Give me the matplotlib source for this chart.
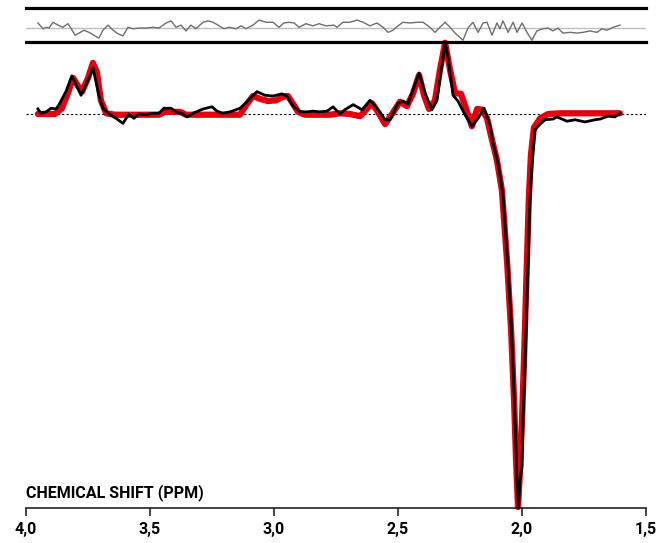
import matplotlib
matplotlib.use("Agg")
import matplotlib.pyplot as plt

plt.rcParams['font.family'] = ['Roboto', 'DejaVu Sans']

# measured spectrum (ppm, intensity; baseline = 0, tallest peak ~ 1)
data_ppm = [3.952, 3.940, 3.919, 3.899, 3.879, 3.867, 3.839, 3.815, 3.778, 3.750,
            3.730, 3.706, 3.690, 3.665, 3.637, 3.609, 3.585, 3.565, 3.544, 3.516,
            3.488, 3.464, 3.444, 3.415, 3.395, 3.367, 3.351, 3.327, 3.286, 3.250,
            3.230, 3.206, 3.177, 3.137, 3.109, 3.069, 3.036, 3.004, 2.968, 2.948,
            2.923, 2.895, 2.867, 2.843, 2.815, 2.786, 2.762, 2.734, 2.714, 2.681,
            2.645, 2.613, 2.585, 2.552, 2.532, 2.500, 2.480, 2.460, 2.415, 2.391,
            2.363, 2.343, 2.310, 2.298, 2.278, 2.258, 2.230, 2.202, 2.177, 2.153,
            2.129, 2.117, 2.097, 2.077, 2.056, 2.044, 2.036, 2.028, 2.020, 2.014,
            2.008, 2.000, 1.996, 1.988, 1.976, 1.968, 1.960, 1.948, 1.927, 1.907,
            1.875, 1.859, 1.819, 1.786, 1.746, 1.706, 1.685, 1.653, 1.625, 1.605]
data_int = [0.07, 0.01, 0.03, 0.08, 0.07, 0.13, 0.31, 0.53, 0.26, 0.47,
            0.64, 0.26, 0.08, 0.00, -0.06, -0.13, 0.00, -0.06, 0.00, -0.01,
            0.01, 0.01, 0.08, 0.08, 0.03, 0.00, -0.04, 0.01, 0.07, 0.10,
            0.04, 0.01, 0.03, 0.08, 0.17, 0.31, 0.26, 0.25, 0.28, 0.25,
            0.11, 0.03, 0.03, 0.04, 0.03, 0.04, 0.10, 0.00, 0.06, 0.13,
            0.06, 0.19, 0.08, -0.08, -0.08, 0.15, 0.18, 0.14, 0.57, 0.29,
            0.06, 0.19, 0.99, 0.78, 0.26, 0.18, -0.01, -0.17, -0.06, 0.08,
            -0.15, -0.40, -0.68, -1.11, -2.13, -2.86, -3.51, -4.25, -5.08, -5.46,
            -5.08, -4.90, -4.25, -3.51, -2.13, -1.19, -0.74, -0.22, -0.14, -0.08,
            -0.07, -0.04, -0.10, -0.08, -0.11, -0.08, -0.07, -0.03, -0.04, 0.01]

# fitted spectrum
fit_ppm = [3.952, 3.883, 3.855, 3.831, 3.810, 3.790, 3.774, 3.750, 3.730, 3.714,
           3.698, 3.677, 3.641, 3.540, 3.464, 3.440, 3.379, 3.355, 3.137, 3.109,
           3.085, 3.056, 3.024, 2.992, 2.964, 2.944, 2.923, 2.903, 2.875, 2.774,
           2.734, 2.694, 2.653, 2.605, 2.581, 2.552, 2.524, 2.492, 2.464, 2.440,
           2.415, 2.395, 2.375, 2.351, 2.331, 2.310, 2.290, 2.270, 2.246, 2.226,
           2.202, 2.181, 2.161, 2.141, 2.121, 2.101, 2.081, 2.060, 2.044, 2.032,
           2.024, 2.016, 2.008, 2.000, 1.992, 1.980, 1.972, 1.964, 1.952, 1.927,
           1.895, 1.847, 1.605]
fit_int = [0.00, 0.00, 0.08, 0.29, 0.50, 0.39, 0.31, 0.50, 0.71, 0.58,
           0.19, 0.01, -0.01, -0.01, -0.01, 0.03, 0.03, -0.01, -0.01, 0.14,
           0.25, 0.21, 0.18, 0.19, 0.24, 0.25, 0.14, 0.03, -0.01, -0.01,
           0.01, 0.00, -0.03, 0.15, 0.03, -0.14, 0.00, 0.17, 0.11, 0.28,
           0.54, 0.26, 0.07, 0.19, 0.61, 0.99, 0.61, 0.29, 0.28, 0.08,
           -0.17, 0.07, 0.06, -0.06, -0.36, -0.64, -1.06, -2.06, -3.00, -3.97,
           -4.81, -5.46, -4.94, -4.25, -3.42, -2.03, -1.13, -0.57, -0.19, -0.06,
           0.00, 0.01, 0.01]

# residual (data - fit)
res_ppm = [3.952, 3.931, 3.919, 3.907, 3.891, 3.871, 3.851, 3.831, 3.819, 3.802,
           3.786, 3.766, 3.746, 3.726, 3.706, 3.690, 3.669, 3.649, 3.629, 3.609,
           3.589, 3.569, 3.544, 3.516, 3.488, 3.464, 3.435, 3.415, 3.395, 3.375,
           3.355, 3.335, 3.315, 3.286, 3.266, 3.246, 3.226, 3.202, 3.181, 3.153,
           3.133, 3.113, 3.085, 3.060, 3.032, 3.004, 2.980, 2.960, 2.940, 2.919,
           2.899, 2.871, 2.843, 2.819, 2.790, 2.758, 2.746, 2.722, 2.694, 2.665,
           2.641, 2.613, 2.585, 2.560, 2.540, 2.520, 2.500, 2.480, 2.452, 2.423,
           2.399, 2.371, 2.351, 2.331, 2.310, 2.290, 2.270, 2.238, 2.218, 2.198,
           2.177, 2.157, 2.141, 2.121, 2.101, 2.089, 2.077, 2.056, 2.036, 2.020,
           2.000, 1.980, 1.960, 1.940, 1.915, 1.895, 1.875, 1.855, 1.835, 1.806,
           1.778, 1.754, 1.726, 1.698, 1.677, 1.657, 1.633, 1.605]
res_int = [0.07, -0.01, 0.01, 0.00, 0.08, 0.04, 0.01, 0.06, 0.00, -0.10,
           -0.07, -0.03, -0.06, -0.10, -0.14, -0.03, 0.04, -0.03, -0.08, -0.11,
           0.01, -0.01, 0.00, 0.00, 0.01, 0.00, 0.07, 0.10, 0.01, 0.04,
           -0.04, 0.04, -0.01, 0.08, 0.10, 0.08, 0.04, -0.01, 0.01, -0.01,
           0.03, -0.01, 0.04, 0.11, 0.08, 0.08, 0.01, 0.07, 0.08, 0.07,
           0.01, 0.06, 0.03, 0.06, 0.03, 0.04, 0.01, 0.08, 0.08, 0.11,
           0.08, 0.03, 0.07, 0.01, -0.06, -0.03, 0.03, 0.08, 0.07, 0.08,
           0.08, 0.01, -0.06, 0.01, 0.08, 0.01, -0.07, -0.17, 0.00, 0.08,
           -0.06, 0.07, 0.08, -0.10, 0.07, -0.01, 0.10, -0.06, 0.08, -0.06,
           0.07, -0.06, -0.17, -0.04, -0.01, 0.00, -0.04, 0.00, -0.07, -0.06,
           -0.07, -0.06, -0.04, -0.06, -0.01, -0.03, 0.01, 0.04]

xticks = [4.0, 3.5, 3.0, 2.5, 2.0, 1.5]
xlabels = ["4,0", "3,5", "3,0", "2,5", "2,0", "1,5"]

W, H = 672, 543
fig = plt.figure(figsize=(W / 100, H / 100), dpi=100)

# main spectrum panel
ax = fig.add_axes([26 / W, (H - 508) / H, 620 / W, 466 / H])
ax.plot(fit_ppm, fit_int, color="#e3000f", lw=4.5, solid_capstyle="round",
        solid_joinstyle="round", zorder=2, clip_on=False)
ax.plot(data_ppm, data_int, color="black", lw=2.0, solid_joinstyle="round",
        zorder=3, clip_on=False)
ax.axhline(0, color="black", lw=0.8, ls=(0, (2, 2)), zorder=1)
ax.set_xlim(4.0, 1.5)
ax.set_ylim(-5.472, 1.0)
for s in ("top", "left", "right"):
    ax.spines[s].set_visible(False)
ax.spines["bottom"].set_color("#222222")
ax.spines["bottom"].set_linewidth(1.2)
ax.set_yticks([])
ax.set_xticks(xticks)
ax.set_xticklabels(xlabels, fontsize=11.5, fontweight="bold")
ax.tick_params(axis="x", direction="out", length=6, width=1.2, color="#222222", pad=4)
ax.text(0.0, 7 / 466, "CHEMICAL SHIFT (PPM)", transform=ax.transAxes,
        fontsize=11.5, fontweight="bold", ha="left", va="bottom")

# residual panel
rax = fig.add_axes([26 / W, (H - 42) / H, 620 / W, 34 / H])
rax.axhline(0, color="#c0c0c0", lw=1.0, zorder=1)
rax.plot(res_ppm, res_int, color="#6e6e6e", lw=1.0, zorder=2)
rax.set_xlim(4.0, 1.5)
rax.set_ylim(-0.194, 0.278)
rax.set_xticks([])
rax.set_yticks([])
for s in ("left", "right"):
    rax.spines[s].set_visible(False)
for s in ("top", "bottom"):
    rax.spines[s].set_linewidth(2.3)
    rax.spines[s].set_color("black")
rax.patch.set_alpha(0)

fig.savefig("out.png", dpi=100)
